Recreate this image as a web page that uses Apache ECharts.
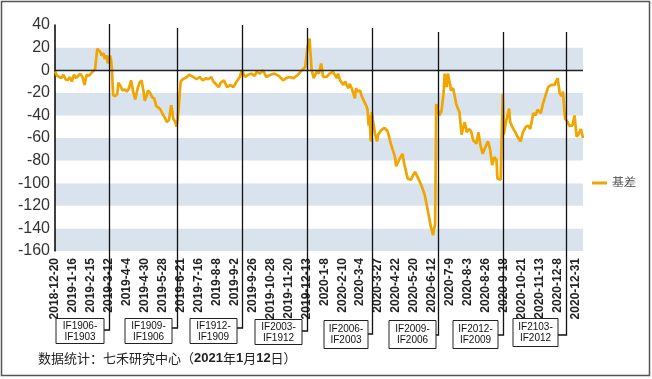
<!DOCTYPE html>
<html><head><meta charset="utf-8">
<script src="https://cdn.jsdelivr.net/npm/echarts@6/dist/echarts.min.js"></script>
<style>html,body{margin:0;padding:0;background:#fff}#c{width:652px;height:379px}</style>
</head><body><div id="c"></div>
<script>
// x tick labels: one every 17 trading days
const tickLabels = ['2018-12-20','2019-1-16','2019-2-15','2019-3-12','2019-4-4','2019-4-30','2019-5-28','2019-6-21','2019-7-16','2019-8-8','2019-9-2','2019-9-26','2019-10-28','2019-11-20','2019-12-13','2020-1-8','2020-2-10','2020-3-4','2020-3-27','2020-4-22','2020-5-20','2020-6-12','2020-7-9','2020-8-3','2020-8-26','2020-9-18','2020-10-21','2020-11-13','2020-12-8','2020-12-31'];
const sampleDay = [0,2,4,6,8,10,12,14,16,18,20,22,24,26,28,30,32,34,36,38,39,40,41,43,44,46,47,49,50,52,53,54,55,57,59,60,62,64,66,68,70,72,74,76,78,80,82,84,85,87,88,90,92,94,96,98,100,102,104,106,108,109,110,111,112,114,115,116,117,118,119,121,123,125,127,129,131,134,137,140,143,145,148,150,152,155,157,160,163,166,169,172,175,177,180,183,186,189,191,194,197,200,204,208,212,216,219,222,226,230,234,237,239,241,243,245,248,250,252,254,257,260,263,265,267,268,270,273,275,276,278,279,281,282,284,285,287,289,290,292,293,295,296,297,298,299,300,301,303,305,306,309,312,315,318,322,323,326,329,331,334,337,339,341,344,347,350,353,356,358,359,360,361,364,366,368,369,371,372,374,375,377,380,382,383,385,386,388,390,392,394,396,399,401,403,405,408,410,412,414,416,418,419,422,423,424,425,427,430,431,434,436,438,441,443,446,448,450,453,455,457,460,462,465,467,470,473,476,478,480,481,483,485,487,490,492,494,496,498,500];
const basis = [-1,-5,-6,-7,-4,-8,-9,-6,-10,-4,-7,-5,-3,-6,-13,-4,-5,-3,-1,1,2,19,20,16,13,15,10,13,6,13,10,0,-22,-23,-21,-11,-14,-18,-17,-19,-16,-9,-19,-26,-17,-11,-9,-20,-27,-22,-18,-20,-24,-25,-32,-33,-35,-39,-42,-46,-44,-43,-31,-36,-43,-46,-50,-44,-35,-22,-10,-8,-7,-6,-4,-5,-6,-8,-6,-9,-7,-8,-6,-10,-12,-15,-11,-9,-15,-13,-15,-10,-6,0,-6,-4,-3,-5,-1.5,-3,0,-6,-4,-3,-5,-9,-7,-6,-7,-4,0,3,20,28,0,-7,-1,-3,6,-6,-6,-3,-1.5,-4,-7,-3,-9,-13,-10,-13,-16,-12,-16,-15,-25,-16,-19,-18,-22,-26,-28,-32,-35,-49,-40,-63,-37,-44,-56,-63,-57,-53,-51,-54,-65,-77,-85,-79,-74,-84,-96,-97,-93,-90,-96,-102,-110,-124,-139,-146,-140,-136,-30,-40,-36,-20,-3,-15,-3,-12,-18,-16,-30,-35,-37,-57,-53,-46,-55,-52,-54,-62,-65,-55,-67,-74,-67,-63,-70,-84,-77,-79,-96,-97,-96,-21,-57,-46,-34,-46,-52,-55,-59,-63,-55,-50,-49,-52,-38,-40,-35,-38,-30,-21,-15,-13,-13,-7,-21,-23,-19,-43,-45,-49,-49,-40,-59,-56,-52,-60];
// contract roll days (trading-day index) and their labels
const rollDay = [51,116,177,239,300,363,424,484];
const rollLabels = ['IF1906-\nIF1903','IF1909-\nIF1906','IF1912-\nIF1909','IF2003-\nIF1912','IF2006-\nIF2003','IF2009-\nIF2006','IF2012-\nIF2009','IF2103-\nIF2012'];
const yTicks = {min:-160, max:40, step:20};
const dayStep = 17, lastDay = 500;

// annotation styling (pixels)
const lineTop = [24,28,25,28,28,32,32,32];
const linkY   = [330,328,328,331,334,335,335,335];
const boxGap  = [6,6,6,6,5,3,6,9];
const boxW    = [48,47,47,47,44,47,45,45];
const boxTop  = [318,318,318,319,320,320,320,318];
const boxH    = [25,25,25,25,28,28,28,28];

const FONT = '"Liberation Sans", Arial, sans-serif';
const chart = echarts.init(document.getElementById('c'), null, {renderer:'canvas'});
chart.setOption({
  animation:false,
  backgroundColor:'#fff',
  grid:{left:55, top:25, width:528, height:226},
  legend:{
    data:['基差'], left:592, top:177, orient:'vertical', padding:0,
    icon:'rect', itemWidth:15, itemHeight:3,
    textStyle:{fontSize:12, color:'#444', fontFamily:FONT}
  },
  xAxis:{
    type:'value', min:0, max:lastDay, interval:dayStep,
    axisLine:{show:false}, axisTick:{show:false}, splitLine:{show:false},
    axisLabel:{
      rotate:90, fontSize:12, fontWeight:'bold', color:'#222', fontFamily:FONT, margin:7,
      showMaxLabel:false,
      formatter:function(v){ return (v % dayStep === 0 && tickLabels[v/dayStep]) ? tickLabels[v/dayStep] : ''; }
    }
  },
  yAxis:{
    type:'value', min:yTicks.min, max:yTicks.max, interval:yTicks.step,
    axisLine:{show:true, onZero:false, lineStyle:{color:'#000', width:1.5}},
    axisTick:{show:false}, splitLine:{show:false},
    splitArea:{show:true, areaStyle:{color:['#d9e3ee','#ffffff']}},
    axisLabel:{fontSize:16, color:'#333', margin:5, fontFamily:FONT}
  },
  series:[{
    type:'line', name:'基差', symbol:'none',
    data: sampleDay.map(function(d,i){ return [d, basis[i]]; }),
    lineStyle:{color:'#f0a500', width:2.7}, itemStyle:{color:'#f0a500'},
    z:3,
    markLine:{
      silent:true, symbol:'none', animation:false,
      label:{show:false},
      lineStyle:{color:'#222', width:1.3, type:'solid'},
      data:[{yAxis:0}]
    }
  }]
});

const g = [];
g.push({type:'rect', silent:true, shape:{x:1.5, y:1.5, width:648, height:374}, style:{fill:null, stroke:'#555', lineWidth:1.5}});
rollDay.forEach(function(d,i){
  const x = Math.round(chart.convertToPixel({xAxisIndex:0}, d)) + 0.5;
  const right = x - boxGap[i];
  g.push({type:'polyline', silent:true, z:10, shape:{points:[[x,lineTop[i]],[x,linkY[i]],[right,linkY[i]]]}, style:{stroke:'#111', lineWidth:1.3, fill:null}});
  g.push({type:'rect', silent:true, z:10, shape:{x:right-boxW[i]+0.5, y:boxTop[i]+0.5, width:boxW[i], height:boxH[i]}, style:{fill:'#fff', stroke:'#222', lineWidth:1}});
  g.push({type:'text', silent:true, z:11, x:right-boxW[i]/2+0.5, y:boxTop[i]+boxH[i]/2+1, style:{text:rollLabels[i], fontSize:10, fontFamily:FONT, fill:'#111', align:'center', verticalAlign:'middle', lineHeight:11}});
});
g.push({type:'text', silent:true, z:11, x:38, y:358, style:{
  text:'数据统计：七禾研究中心（{b|2021}年{b|1}月{b|12}日）',
  fontSize:13, fontFamily:'"Noto Sans CJK SC", sans-serif', fill:'#222', verticalAlign:'middle',
  rich:{b:{fontSize:13, fontWeight:'bold', fontFamily:FONT, fill:'#222'}}
}});
chart.setOption({graphic:g});
</script>
</body></html>
